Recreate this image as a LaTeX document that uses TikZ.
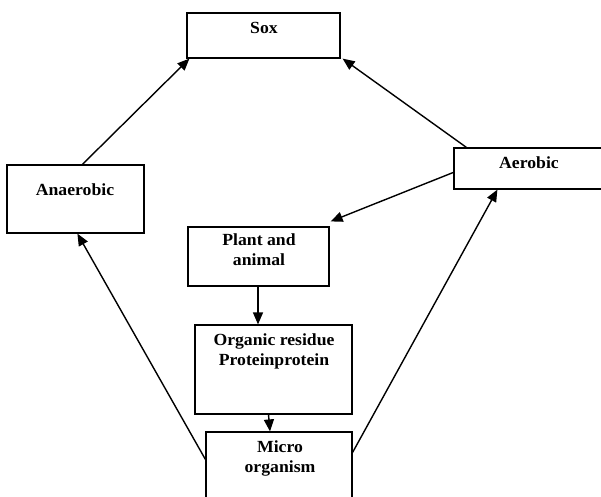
\documentclass[tikz,border=0pt]{standalone}
\usepackage{fontspec}
\setmainfont{Liberation Serif}[FakeStretch=1.04]
\usetikzlibrary{arrows.meta,calc}
\begin{document}
\begin{tikzpicture}[x=1pt,y=-1pt,
  box/.style={draw=black,line width=1.2pt,rectangle,inner sep=0pt,fill=none},
  lbl/.style={font=\fontsize{17}{20}\selectfont\bfseries,inner sep=0pt,align=center,anchor=base},
  conn/.style={line width=1.4pt,-{Triangle[length=12pt,width=10pt]}}]
\useasboundingbox (0,0) rectangle (601,496);
\fill[white] (0,0) rectangle (601,496);
\clip (0,0) rectangle (601,496);
% boxes
\node[box,minimum width=153pt,minimum height=45pt] (sox) at (263.5,35.5) {};
\node[box,minimum width=137pt,minimum height=68pt] (anaer) at (75.5,199) {};
\node[box,minimum width=158pt,minimum height=41pt] (aer) at (533,168.5) {};
\node[box,minimum width=141pt,minimum height=59pt] (plant) at (258.5,256.5) {};
\node[box,minimum width=157pt,minimum height=89pt] (org) at (273.5,369.5) {};
\node[box,minimum width=146pt,minimum height=78pt] (micro) at (279,471) {};
% texts (anchor at baseline of last line)
\node[lbl] (soxt) at (264,33) {Sox};
\node[lbl] (anaert) at (75,195) {Anaerobic};
\node[lbl] (aert) at (529,168) {Aerobic};
\node[lbl] (plantt) at (259,265) {Plant and\\animal};
\node[lbl] (orgt) at (274,365) {Organic residue\\Proteinprotein};
\node[lbl] (microt) at (280,472) {Micro\\organism};
% connectors
\draw[conn] ($(anaer.north west)+(76,0)$) -- ($(sox.south west)+(3,0)$);
\draw[conn] ($(aer.north west)+(13,0)$) -- ($(sox.south east)+(2,0)$);
\draw[conn] ($(aer.north west)+(0,25)$) -- ($(plant.north east)+(1,-5)$);
\draw[conn] ($(plant.south)+(-0.5,0)$) -- ($(org.north)+(-15.5,0)$);
\draw[conn] ($(org.south)+(-5,0)$) -- ($(micro.north)+(-9,0)$);
\draw[conn] ($(micro.north west)+(0,28)$) -- ($(anaer.south west)+(71,0)$);
\draw[conn] ($(micro.north east)+(0,21)$) -- ($(aer.south west)+(44,0)$);
\end{tikzpicture}
\end{document}
